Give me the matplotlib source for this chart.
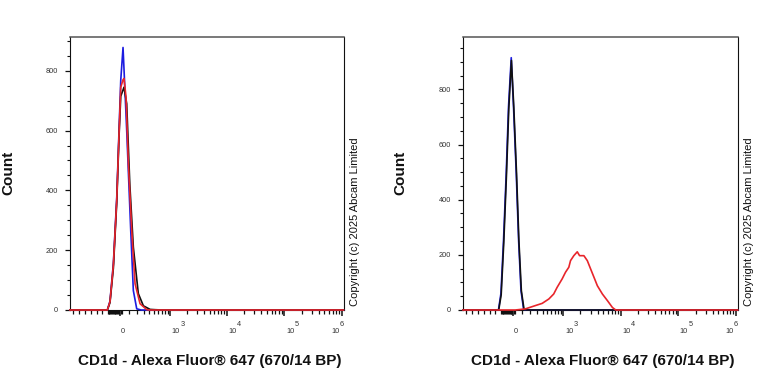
import numpy as np
import matplotlib
matplotlib.use("Agg")
import matplotlib.pyplot as plt

plt.rcParams['font.family'] = ['Liberation Sans', 'DejaVu Sans']

# ---------------- data (fluorescence value, count) ----------------
x_label = "CD1d - Alexa Fluor\u00ae 647 (670/14 BP)"
y_label = "Count"
copyright_text = "Copyright (c) 2025 Abcam Limited"

x_tick_values = [0, 1e3, 1e4, 1e5, 1e6]
x_tick_exps = [None, "3", "4", "5", "6"]
y_tick_values = [0, 200, 400, 600, 800]

# Left panel
left_blue_x = [-1000, -145, -113, -74, -36, -11, 8, 33, 55, 74, 121, 153, 197, 260, 1.08e6]
left_blue_y = [0, 0, 30, 155, 377, 601, 769, 878, 730, 601, 266, 65, 4, 0, 0]

left_black_x = [-1000, -145, -113, -74, -36, -11, 8, 44, 74, 110, 153, 219, 295, 416, 527, 704, 1.08e6]
left_black_y = [0, 0, 25, 140, 360, 580, 715, 745, 690, 420, 210, 55, 14, 2, 1, 0, 0]

left_red_x = [-1000, -145, -113, -74, -36, -11, 8, 33, 44, 66, 93, 133, 175, 244, 354, 420, 1.08e6]
left_red_y = [0, 0, 28, 150, 370, 590, 745, 770, 774, 713, 490, 266, 88, 21, 1, 0, 0]

# Right panel
right_blue_x = [-1000, -171, -140, -109, -78, -52, -22, 3, 33, 59, 86, 116, 145, 1.08e6]
right_blue_y = [0, 0, 60, 252, 494, 737, 915, 737, 494, 252, 70, 3, 0, 0]

right_black_x = [-1000, -168, -137, -106, -75, -49, -20, 6, 36, 62, 90, 121, 150, 1.08e6]
right_black_y = [0, 0, 55, 245, 490, 730, 905, 735, 494, 252, 70, 3, 0, 0]

right_red_x = [-1000, 22, 137, 274, 391, 534, 661, 765, 947, 1087, 1245, 1335, 1526, 1755,
               1927, 2293, 2632, 3005, 3435, 3939, 4818, 5893, 7207, 8231, 1.08e6]
right_red_y = [0, 0, 4, 16, 24, 40, 58, 82, 113, 137, 155, 179, 197, 211,
               197, 197, 179, 149, 119, 88, 58, 34, 9, 0, 0]

# ---------------- biexponential-like (arcsinh) axis ----------------
W = 273.0
LN10 = np.log(10)


def fwd(x):
    return np.arcsinh(np.asarray(x, dtype=float) / W) / LN10


def inv(u):
    return W * np.sinh(np.asarray(u, dtype=float) * LN10)


XMIN, XMAX = -1000, 1.08e6
PX_PER_UNIT = 57.3

BLUE = "#1c1ce0"
BLACK = "#111111"
RED = "#e8252b"

fig = plt.figure(figsize=(7.68, 3.84), dpi=100)


def make_panel(rect, ymax, curves):
    ax = fig.add_axes(rect)
    ax.set_xscale('function', functions=(fwd, inv))
    ax.set_xlim(XMIN, XMAX)
    ax.set_ylim(0, ymax)
    for xs, ys, col in curves:
        ax.plot(xs, ys, color=col, lw=1.2, zorder=3, clip_on=False)

    # x ticks
    ax.set_xticks(x_tick_values)
    ax.set_xticklabels([])
    minor = []
    for k in (3, 4, 5):
        minor += [m * 10 ** k for m in range(2, 10)]
    minor += list(range(100, 1000, 100))
    minor += list(range(-140, 30, 10))
    neg_px = np.array([-17.7, -23.3, -29.0, -35.0, -41.0, -46.7])
    minor += [float(v) for v in inv(neg_px / PX_PER_UNIT)]
    ax.set_xticks(minor, minor=True)
    ax.tick_params(axis='x', which='major', direction='out', length=4.6, width=1.1, color='#111')
    ax.tick_params(axis='x', which='minor', direction='out', length=2.8, width=0.9, color='#111')

    # y ticks
    ax.set_yticks(y_tick_values)
    ax.set_yticks(np.arange(0, ymax, 50), minor=True)
    ax.tick_params(axis='y', which='major', direction='out', length=3.8, width=0.9,
                   color='#111', labelsize=5.3, labelcolor='#333', pad=5)
    ax.tick_params(axis='y', which='minor', direction='out', length=2.4, width=0.8, color='#111')

    for s in ('left', 'bottom', 'right'):
        ax.spines[s].set_color('#111')
        ax.spines[s].set_linewidth(0.8)
    ax.spines['top'].set_color('#555')
    ax.spines['top'].set_linewidth(1.1)

    # x tick labels (FlowJo style)
    for val, ex in zip(x_tick_values, x_tick_exps):
        if ex is None:
            ax.annotate("0", xy=(val, 0), xycoords=('data', 'axes fraction'),
                        xytext=(1.8, -15.8), textcoords='offset points',
                        ha='center', va='center', fontsize=5.3, color='#333')
        else:
            dx = 1.2 if ex != "6" else -7.6
            ax.annotate("10", xy=(val, 0), xycoords=('data', 'axes fraction'),
                        xytext=(dx, -15.8), textcoords='offset points',
                        ha='left', va='center', fontsize=5.3, color='#333')
            ax.annotate(ex, xy=(val, 0), xycoords=('data', 'axes fraction'),
                        xytext=(dx + 6.2, -10.8), textcoords='offset points',
                        ha='left', va='center', fontsize=5.3, color='#333')
    return ax


axL = make_panel([70 / 768, 1 - 310 / 384, 273.5 / 768, 273 / 384], 913,
                 [(left_blue_x, left_blue_y, BLUE),
                  (left_black_x, left_black_y, BLACK),
                  (left_red_x, left_red_y, RED)])

axR = make_panel([463 / 768, 1 - 310 / 384, 274.7 / 768, 273 / 384], 990,
                 [(right_blue_x, right_blue_y, BLUE),
                  (right_black_x, right_black_y, BLACK),
                  (right_red_x, right_red_y, RED)])

# labels
for cx in (8, 400):
    fig.text(cx / 768, 1 - 173 / 384, y_label, rotation=90, ha='center', va='center',
             fontsize=11, fontweight='bold', color='#111')
for cx in (209.5, 602.5):
    fig.text(cx / 768, 1 - 361 / 384, x_label, ha='center', va='center',
             fontsize=11, fontweight='bold', color='#111')
for cx in (355, 749):
    fig.text(cx / 768, 1 - 306 / 384, copyright_text, rotation=90, ha='center', va='bottom',
             fontsize=8, color='#111')

fig.savefig("out.png", dpi=100)
